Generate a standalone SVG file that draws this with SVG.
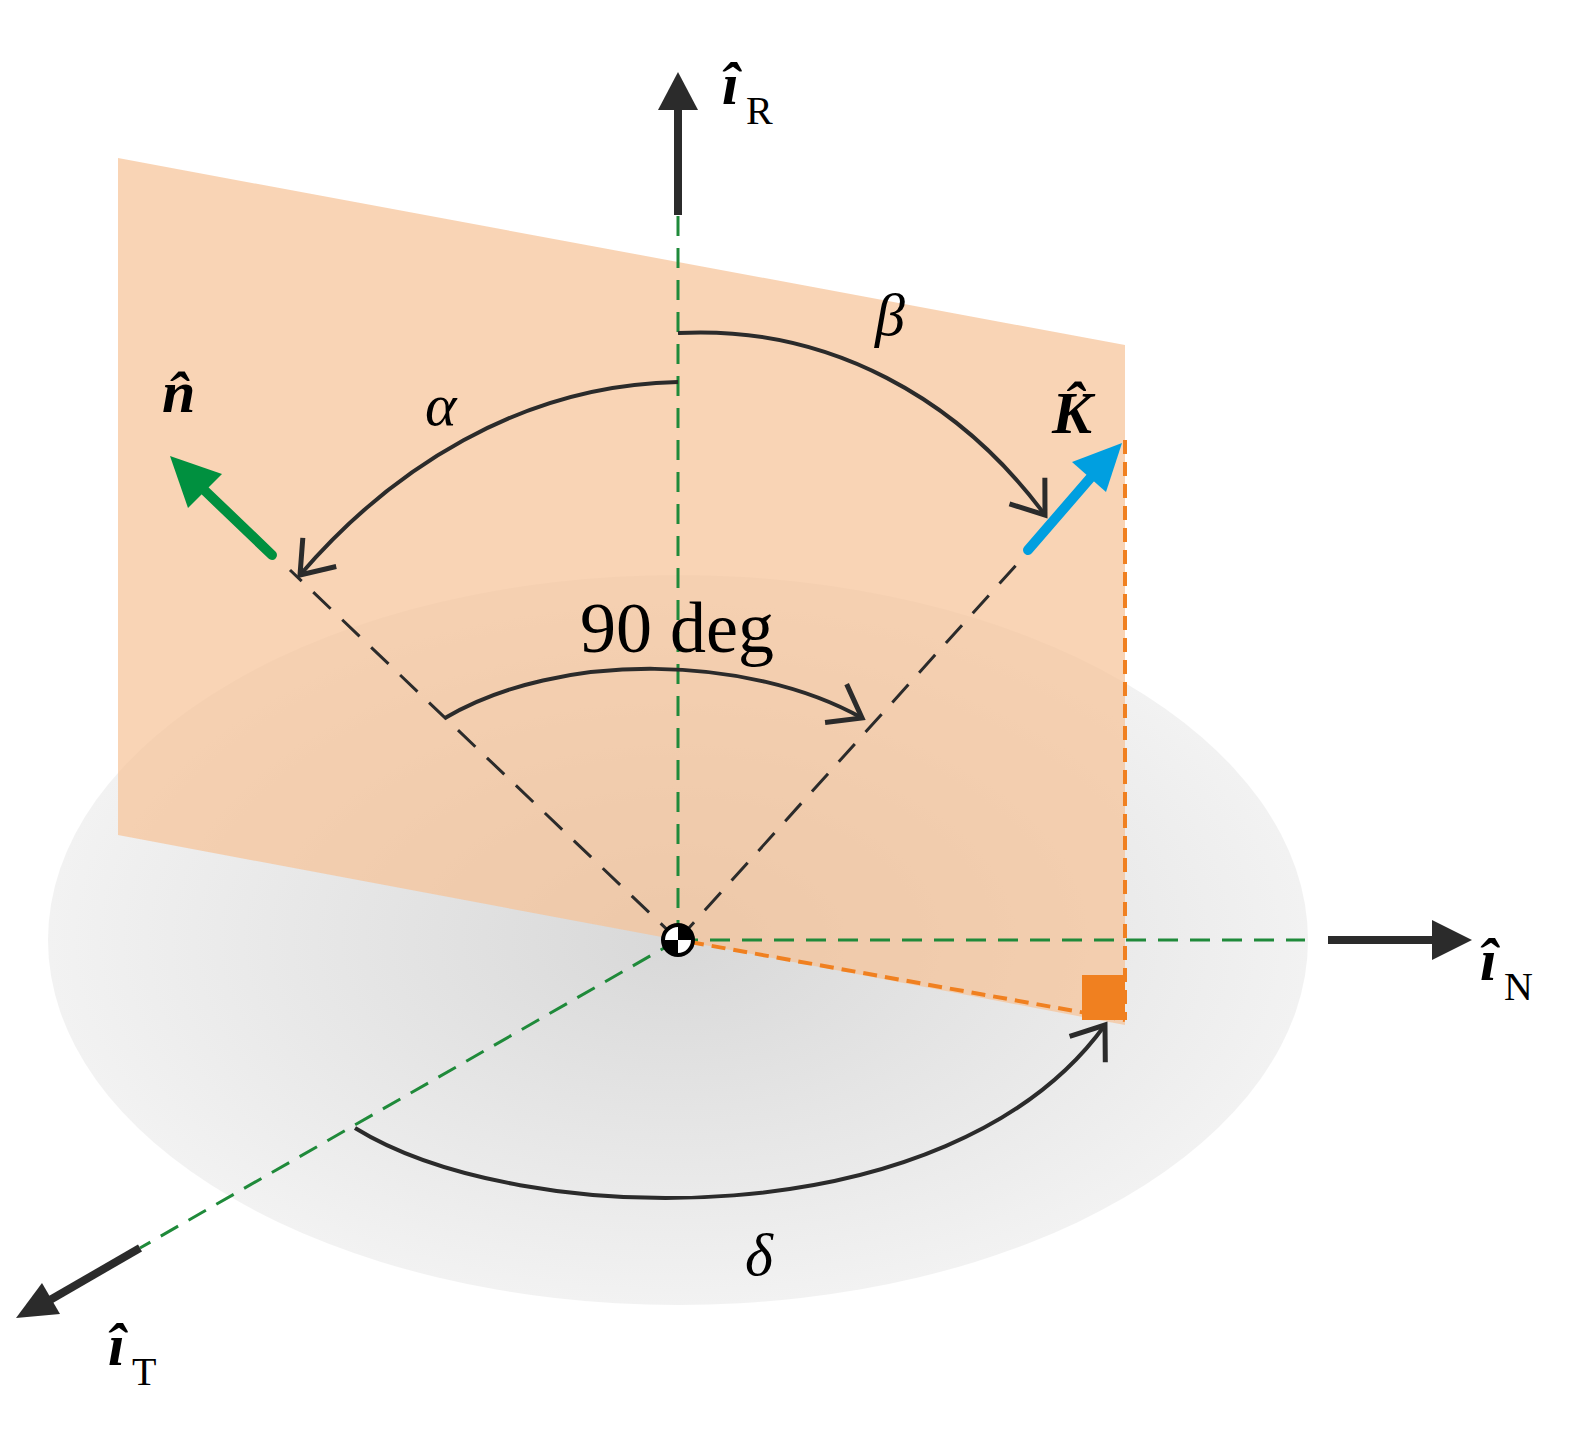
<svg xmlns="http://www.w3.org/2000/svg" width="1594" height="1444" viewBox="0 0 1594 1444">
<defs>
<radialGradient id="g" cx="0.5" cy="0.5" r="0.5"><stop offset="0" stop-color="#d8d8d8"/><stop offset="1" stop-color="#f2f2f2"/></radialGradient>
<marker id="ah" viewBox="0 0 10 10" refX="8" refY="5" markerWidth="10" markerHeight="10" orient="auto" markerUnits="userSpaceOnUse" overflow="visible"><path d="M-22,-17 L8,5 L-22,27" fill="none" stroke="#2b2b2b" stroke-width="5"/></marker>
<style>
.dg{stroke:#1f8a3a;stroke-width:3;stroke-dasharray:20 12;fill:none}
.dk{stroke:#2b2b2b;stroke-width:3;stroke-dasharray:24 16;fill:none}
.do{stroke:#f08020;stroke-width:4;stroke-dasharray:14 8;fill:none}
.arc{stroke:#2b2b2b;stroke-width:4;fill:none}
.ax{stroke:#2b2b2b;stroke-width:8}
.t{font-family:"Liberation Serif",serif;fill:#000}
</style>
</defs>
<g id="disk"><ellipse cx="678" cy="940" rx="630" ry="365" fill="url(#g)"/></g>
<g id="plane"><polygon points="118,158 1125,345 1125,1025 678,940 118,835" fill="#f6c296" fill-opacity="0.7"/></g>
<g id="connectors">
<line class="dg" x1="678" y1="940" x2="678" y2="215"/>
<line class="dg" x1="678" y1="940" x2="1305" y2="940"/>
<line class="dg" x1="678" y1="940" x2="140" y2="1248"/>
<line class="dk" x1="678" y1="940" x2="290" y2="570"/>
<line class="dk" x1="678" y1="940" x2="1028" y2="552"/>
<line class="do" x1="1125" y1="440" x2="1125" y2="1020"/>
<line class="do" x1="690" y1="942" x2="1125" y2="1020"/>
<rect x="1082" y="975" width="43" height="45" fill="#f08020"/>
<line class="ax" x1="678" y1="215" x2="678" y2="105"/><polygon points="678,72 658,110 698,110" fill="#2b2b2b"/>
<line class="ax" x1="1328" y1="940" x2="1435" y2="940"/><polygon points="1472,940 1432,920 1432,960" fill="#2b2b2b"/>
<line class="ax" x1="140" y1="1248" x2="50" y2="1300"/><polygon points="16,1318 42,1283 60,1314" fill="#2b2b2b"/>
<line x1="272" y1="555" x2="200" y2="486" stroke="#00903f" stroke-width="10" stroke-linecap="round"/><polygon points="170,456 222,474 188,508" fill="#00903f"/>
<line x1="1028" y1="550" x2="1092" y2="476" stroke="#009fe0" stroke-width="10" stroke-linecap="round"/><polygon points="1122,443 1072,462 1106,492" fill="#009fe0"/>
<path class="arc" d="M678,382 C520,385 390,470 300,575" marker-end="url(#ah)"/>
<path class="arc" d="M678,333 C830,325 960,400 1045,515" marker-end="url(#ah)"/>
<path class="arc" d="M445,718 C560,650 750,655 862,718" marker-end="url(#ah)"/>
<path class="arc" d="M355,1128 C520,1230 950,1240 1105,1025" marker-end="url(#ah)"/>
<circle cx="678" cy="940" r="15" fill="#fff" stroke="#000" stroke-width="4"/>
<path d="M678,940 L678,925 A15,15 0 0 1 693,940 Z M678,940 L678,955 A15,15 0 0 1 663,940 Z" fill="#000"/>
</g>
<g id="labels">
<text class="t" x="722" y="104" font-size="60" font-weight="bold" font-style="italic">î</text><text class="t" x="746" y="124" font-size="40">R</text>
<text class="t" x="1480" y="980" font-size="60" font-weight="bold" font-style="italic">î</text><text class="t" x="1504" y="1000" font-size="40">N</text>
<text class="t" x="108" y="1365" font-size="60" font-weight="bold" font-style="italic">î</text><text class="t" x="132" y="1385" font-size="40">T</text>
<text class="t" x="162" y="412" font-size="60" font-weight="bold" font-style="italic">n̂</text>
<text class="t" x="1052" y="433" font-size="60" font-weight="bold" font-style="italic">K̂</text>
<text class="t" x="425" y="425" font-size="60" font-style="italic">α</text>
<text class="t" x="875" y="335" font-size="60" font-style="italic">β</text>
<text class="t" x="745" y="1275" font-size="60" font-style="italic">δ</text>
<text class="t" x="580" y="652" font-size="72">90 deg</text>
</g>
</svg>
